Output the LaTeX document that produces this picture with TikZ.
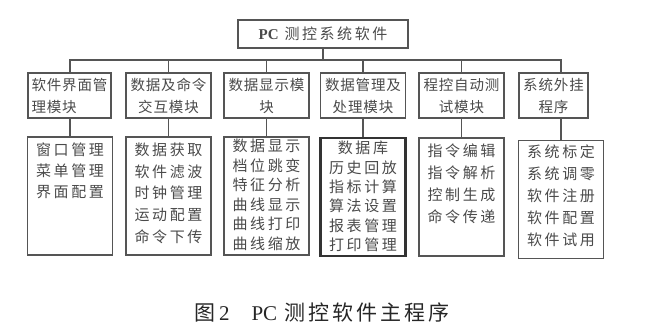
\documentclass[tikz,border=0pt]{standalone}
\usepackage{fontspec}
\setmainfont{Liberation Serif}
\newfontfamily\cjk{Noto Sans CJK SC}
\definecolor{boxline}{HTML}{555555}
\definecolor{boxdark}{HTML}{333333}
\definecolor{txt}{HTML}{4A4A4A}
\newcommand{\topfont}{\fontsize{15pt}{18pt}\cjk\addfontfeature{LetterSpace=17}}
\newcommand{\modfont}{\fontsize{14.5pt}{22pt}\cjk\addfontfeature{LetterSpace=6}}
\newcommand{\itemfont}{\fontsize{15pt}{21pt}\cjk\addfontfeature{LetterSpace=17}}
\newcommand{\capfont}{\fontsize{21pt}{24pt}\cjk\addfontfeature{LetterSpace=14}}
% one column of items, top aligned in a fixed box
\newcommand{\itemcol}[3]{\parbox[c][118pt][t]{85pt}{\centering\vspace*{#1}\baselineskip=#2 #3}}
\begin{document}
\begin{tikzpicture}[x=1pt,y=-1pt,
    box/.style={draw=boxline, line width=1.8pt, text=txt, inner sep=0pt},
    modbox/.style={box, minimum width=85pt, minimum height=45pt, align=center, font=\modfont},
    subbox/.style={box, anchor=north, font=\itemfont},
    link/.style={draw=boxline, line width=1.8pt}]
    \useasboundingbox (0,0) rectangle (654,335);

    % Root
    \node[box, minimum width=170pt, minimum height=28pt, font=\topfont] (top) at (323,34)
        {{\rmfamily\bfseries PC} 测控系统软件};
    \coordinate (bus) at (0,60);

    % Modules
    \node[modbox, align=left, minimum width=83pt] (m1) at (69.5,95.5) {软件界面管\\理模块};
    \node[modbox] (m2) at (168.5,95.5) {数据及命令\\交互模块};
    \node[modbox] (m3) at (266.5,95.5) {数据显示模\\块};
    \node[modbox] (m4) at (363,95.5) {数据管理及\\处理模块};
    \node[modbox] (m5) at (461.5,95.5) {程控自动测\\试模块};
    \node[modbox, minimum width=69pt] (m6) at (553.5,95.5) {系统外挂\\程序};

    % Items of each module
    \node[subbox] (s1) at (70,136) {\itemcol{6pt}{21pt}{窗口管理\\菜单管理\\界面配置}};
    \node[subbox] (s2) at (168.5,136) {\itemcol{6pt}{21.7pt}{数据获取\\软件滤波\\时钟管理\\运动配置\\命令下传}};
    \node[subbox] (s3) at (266.5,136) {\itemcol{2pt}{19.6pt}{数据显示\\档位跳变\\特征分析\\曲线显示\\曲线打印\\曲线缩放}};
    \node[subbox, draw=boxdark, line width=2.3pt] (s4) at (363,137) {\itemcol{3pt}{19.4pt}{数据库\\历史回放\\指标计算\\算法设置\\报表管理\\打印管理}};
    \node[subbox] (s5) at (461.5,137) {\itemcol{6pt}{22pt}{指令编辑\\指令解析\\控制生成\\命令传递}};
    \node[subbox] (s6) at (561,139.5) {\itemcol{4pt}{22pt}{系统标定\\系统调零\\软件注册\\软件配置\\软件试用}};

    % Connectors
    \draw[link] (top.south) -- (top.south |- bus);
    \draw[link, line cap=rect] (s1.north |- bus) -- (s6.north |- bus);
    \foreach \i in {1,...,6} {
        \draw[link] (s\i.north |- bus) -- (s\i.north |- m\i.north);
        \draw[link] (s\i.north |- m\i.south) -- (s\i.north);
    }

    % Caption
    \node[font=\capfont, text=black!85] (cap) at (322,312)
        {图\,{\rmfamily 2}\hspace{22pt}{\rmfamily PC} 测控软件主程序};
\end{tikzpicture}
\end{document}
